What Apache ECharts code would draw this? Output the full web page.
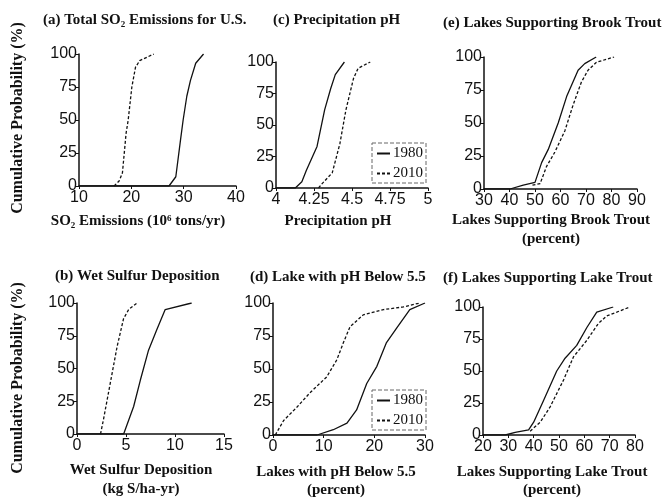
<!DOCTYPE html>
<html>
<head>
<meta charset="utf-8">
<script src="https://cdn.jsdelivr.net/npm/echarts@6/dist/echarts.min.js"></script>
<style>html,body{margin:0;padding:0;background:#fff}#chart{width:663px;height:502px}</style>
</head>
<body>
<div id="chart"></div>
<script>
// tick values of each x axis (min, step and max come from these)
var so2Ticks = [10, 20, 30, 40];
var phTicks = [4, 4.25, 4.5, 4.75, 5];
var brookTicks = [30, 40, 50, 60, 70, 80, 90];
var sulfurTicks = [0, 5, 10, 15];
var lakePhTicks = [0, 10, 20, 30];
var lakeTroutTicks = [20, 30, 40, 50, 60, 70, 80];
var probTicks = [0, 25, 50, 75, 100];

// curves: [x value, cumulative probability %]
var so2_1980 = [[10,0],[27.2,0],[28.5,7],[29.4,35],[29.9,50],[30.6,68],[31.3,80],[32.3,93],[33.8,100]];
var so2_2010 = [[16.7,0],[17.7,4],[18.3,10],[19.0,40],[19.4,50],[20.1,75],[20.8,90],[21.6,95],[24.3,100]];
var ph_1980 = [[4,0],[4.127,0],[4.17,5],[4.20,14],[4.27,33],[4.32,62],[4.36,79],[4.39,90],[4.45,100]];
var ph_2010 = [[4.28,0],[4.3,3],[4.37,12],[4.42,35],[4.46,62],[4.51,87],[4.54,95],[4.62,100]];
var brook_1980 = [[30,0],[40.2,0],[45.4,3],[50,5],[52.6,20],[55.2,30],[59.1,50],[62.4,70],[66.9,90],[69.5,95],[74,100]];
var brook_2010 = [[49,3],[52,4],[54.5,17],[57.8,28],[61.7,44],[65,64],[68.2,81],[70.8,90],[74.1,96],[81,100]];
var sulfur_1980 = [[0,0],[4.76,0],[5.78,21],[6.46,41],[7.3,64],[8.16,80],[9.0,95],[11.7,100]];
var sulfur_2010 = [[2.4,0],[2.7,11],[3.4,39],[4.1,67],[4.75,88],[5.27,95],[6.12,100]];
var lakePh_1980 = [[0,0],[8.7,0],[11.9,4],[14.6,9],[16.5,19],[18.5,39],[20.5,52],[22.4,70],[24.4,81],[27,95],[30,100]];
var lakePh_2010 = [[0.45,0],[2.1,11],[4.7,21],[7.3,32],[10.6,44],[12.6,57],[13.9,70],[15.2,82],[17.8,91],[21.8,95],[25.7,97],[29,100]];
var lakeTrout_1980 = [[20,0],[28.8,0],[32.7,2],[38,4],[40,10],[43.9,27],[49.1,50],[52.4,60],[57,70],[61,84],[64.9,96],[71.4,100]];
var lakeTrout_2010 = [[38.6,3],[42.6,10],[46.5,22],[51.8,43],[55.7,61],[61,74],[65.5,87],[68.8,93],[72.8,96],[78,100]];

var chart = echarts.init(document.getElementById('chart'));
var serif = '"Liberation Serif", "Times New Roman", serif';
var sans = '"Liberation Sans", Arial, sans-serif';

// left, top, width, height of each plot box: a, c, e, b, d, f
var boxes = [
  [79, 54, 157, 132], [276, 62, 152, 126], [484, 57, 153, 132],
  [77, 303, 147, 131], [273, 303, 152, 132], [483, 307, 152, 128]
];
var xTicks = [so2Ticks, phTicks, brookTicks, sulfurTicks, lakePhTicks, lakeTroutTicks];
var curves = [
  [so2_1980, so2_2010], [ph_1980, ph_2010], [brook_1980, brook_2010],
  [sulfur_1980, sulfur_2010], [lakePh_1980, lakePh_2010], [lakeTrout_1980, lakeTrout_2010]
];

var axisLine = {show: true, lineStyle: {color: '#111', width: 1.5}};
var axisTick = {show: true, inside: false, length: 3, lineStyle: {color: '#111', width: 1}};

var grids = [], xAxes = [], yAxes = [], series = [];
for (var i = 0; i < boxes.length; i++) {
  var b = boxes[i], t = xTicks[i];
  grids.push({left: b[0], top: b[1], width: b[2], height: b[3]});
  xAxes.push({
    type: 'value', gridIndex: i, min: t[0], max: t[t.length - 1], interval: t[1] - t[0],
    axisLine: axisLine, axisTick: axisTick, splitLine: {show: false},
    axisLabel: {color: '#111', fontFamily: sans, fontSize: 16, margin: 4, showMinLabel: true, showMaxLabel: true}
  });
  yAxes.push({
    type: 'value', gridIndex: i, min: probTicks[0], max: probTicks[probTicks.length - 1],
    interval: probTicks[1] - probTicks[0],
    axisLine: axisLine, axisTick: axisTick, splitLine: {show: false},
    axisLabel: {color: '#111', fontFamily: sans, fontSize: 16, margin: 2}
  });
  series.push({
    name: '1980', type: 'line', xAxisIndex: i, yAxisIndex: i, data: curves[i][0],
    symbol: 'none', lineStyle: {color: '#111', width: 1.3, type: 'solid'}, itemStyle: {color: '#111'}
  });
  series.push({
    name: '2010', type: 'line', xAxisIndex: i, yAxisIndex: i, data: curves[i][1],
    symbol: 'none', lineStyle: {color: '#111', width: 1.3, type: [3, 2]}, itemStyle: {color: '#111'}
  });
}

function legendAt(left, top, w, h) {
  return {
    left: left, top: top, width: w, height: h, orient: 'vertical',
    data: ['1980', '2010'], selectedMode: false,
    itemWidth: 13, itemHeight: 8, itemGap: 5, padding: [3, 3, 2, 4],
    itemStyle: {color: 'rgba(0,0,0,0)', borderWidth: 0},
    borderColor: '#666', borderWidth: 1, borderType: 'dashed',
    textStyle: {fontFamily: serif, fontSize: 15, color: '#111', padding: [0, 0, 0, -2]}
  };
}

function txt(x, y, s, align, size) {
  return {
    type: 'text', x: x, y: y, silent: true,
    style: {text: s, fill: '#111', font: 'bold ' + (size || 15) + 'px ' + serif,
      textAlign: align || 'left', textVerticalAlign: 'middle'}
  };
}

var labels = [
  txt(43, 20, '(a) Total SO\u2082 Emissions for U.S.'),
  txt(273, 20, '(c) Precipitation pH'),
  txt(443, 23, '(e) Lakes Supporting Brook Trout'),
  txt(55, 276, '(b) Wet Sulfur Deposition'),
  txt(250, 277, '(d) Lake with pH Below 5.5'),
  txt(443, 278, '(f) Lakes Supporting Lake Trout'),
  txt(138, 221, 'SO\u2082 Emissions (10\u2076 tons/yr)', 'center'),
  txt(338, 221, 'Precipitation pH', 'center'),
  txt(551, 220, 'Lakes Supporting Brook Trout', 'center'),
  txt(551, 239, '(percent)', 'center'),
  txt(141, 470, 'Wet Sulfur Deposition', 'center'),
  txt(141, 489, '(kg S/ha-yr)', 'center'),
  txt(336, 472, 'Lakes with pH Below 5.5', 'center'),
  txt(336, 490, '(percent)', 'center'),
  txt(552, 472, 'Lakes Supporting Lake Trout', 'center'),
  txt(552, 490, '(percent)', 'center')
];
var yName1 = txt(18, 118, 'Cumulative Probability (%)', 'center', 16);
yName1.rotation = Math.PI / 2;
var yName2 = txt(18, 378, 'Cumulative Probability (%)', 'center', 16);
yName2.rotation = Math.PI / 2;
labels.push(yName1, yName2);

chart.setOption({
  backgroundColor: '#fff',
  animation: false,
  grid: grids,
  xAxis: xAxes,
  yAxis: yAxes,
  legend: [legendAt(372, 143, 58, 38), legendAt(372, 390, 55, 43)],
  series: series,
  graphic: labels
});
</script>
</body>
</html>
